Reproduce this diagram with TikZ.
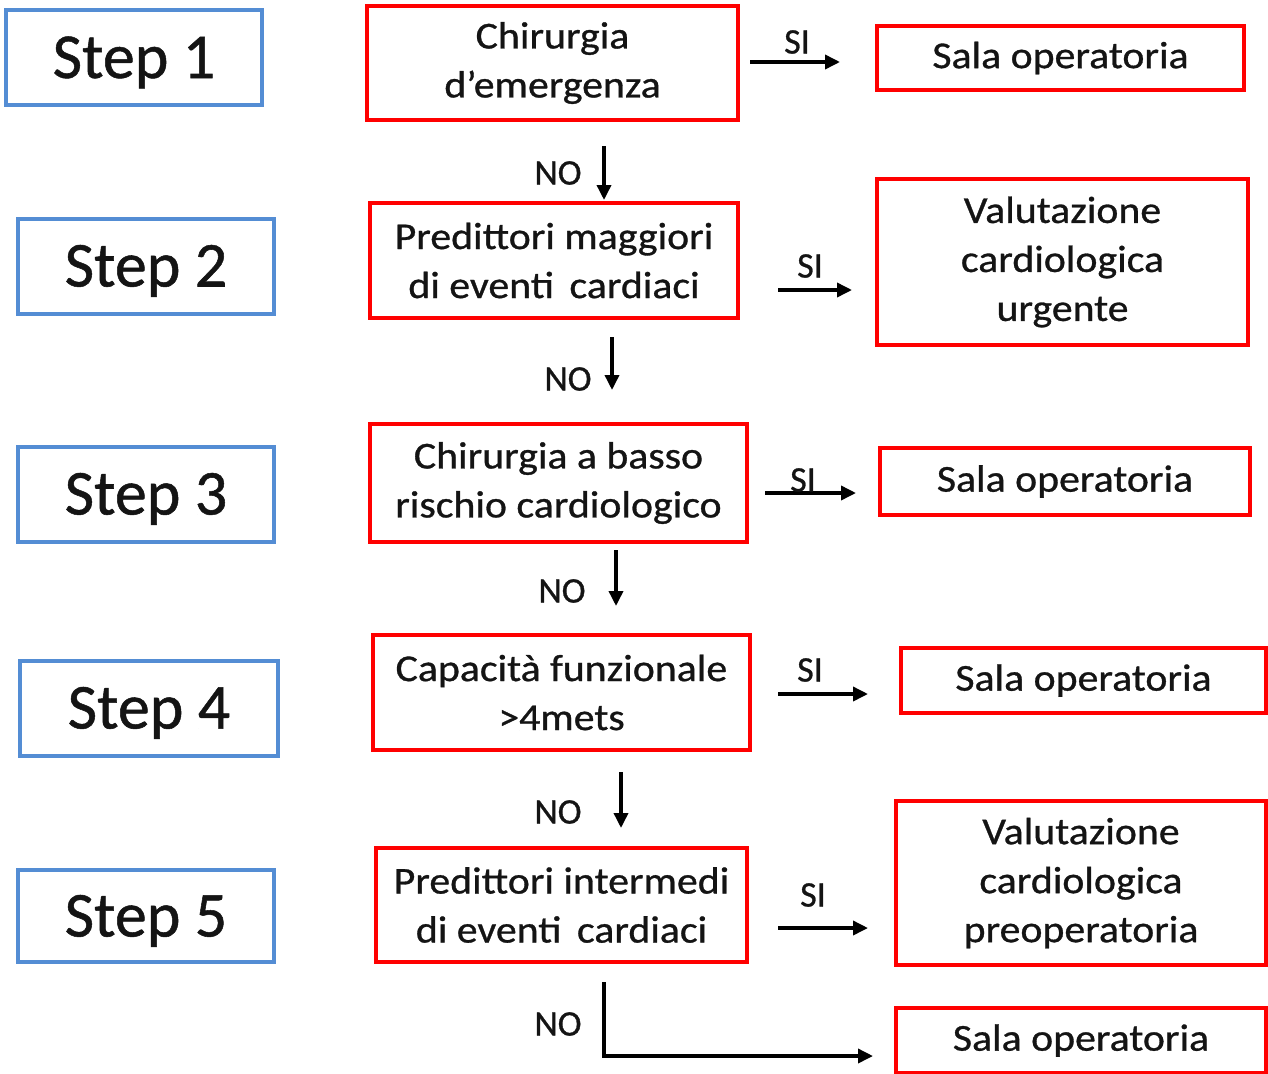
\documentclass[tikz,border=0pt]{standalone}
\usepackage{fontspec}
\setmainfont{Carlito}[FakeBold=0.8]
\newfontfamily\boxfont{Carlito}[FakeStretch=1.1,FakeBold=0.8]
\usetikzlibrary{arrows.meta}
\definecolor{stepblue}{RGB}{84,141,212}
\definecolor{boxred}{RGB}{255,0,0}
\definecolor{txt}{RGB}{20,20,20}
\tikzset{
  stepbox/.style={draw=stepblue, line width=4pt, minimum width=256pt, minimum height=95pt,
    inner sep=0pt, outer sep=0pt, text=txt, text height=41pt, text depth=-6pt,
    font=\fontsize{64}{70}\selectfont},
  redbox/.style={draw=boxred, line width=4pt, inner sep=0pt, outer sep=0pt, align=center,
    text=txt, font=\boxfont\fontsize{38}{49}\selectfont},
  lbl/.style={text=txt, inner sep=0pt, font=\fontsize{36}{40}\selectfont},
  arr/.style={line width=3.5pt, -{Triangle[length=15pt,width=14pt]}}
}
\begin{document}
\begin{tikzpicture}[x=1pt,y=-1pt]
\useasboundingbox (0,0) rectangle (1268,1073);
% step boxes
\node[stepbox] (s1) at (134,57.5) {Step 1};
\node[stepbox] (s2) at (146,266) {Step 2};
\node[stepbox] (s3) at (146,494) {Step 3};
\node[stepbox, minimum width=258pt] (s4) at (149,708) {Step 4};
\node[stepbox, minimum height=92pt] (s5) at (146,916) {Step 5};
% middle column
\node[redbox, minimum width=371pt, minimum height=114pt] (c1) at (552.5,63) {Chirurgia\\d’emergenza};
\node[redbox, minimum width=368pt, minimum height=115pt] (c2) at (554,260.5) {Predittori maggiori\\di eventi\hspace{6pt} cardiaci};
\node[redbox, minimum width=377pt, minimum height=118pt] (c3) at (558.5,483) {Chirurgia a basso\\rischio cardiologico};
\node[redbox, minimum width=377pt, minimum height=115pt] (c4) at (561.5,692.5) {Capacità funzionale\\>4mets};
\node[redbox, minimum width=371pt, minimum height=114pt] (c5) at (561.5,905) {Predittori intermedi\\di eventi\hspace{6pt} cardiaci};
% right column
\node[redbox, minimum width=367pt, minimum height=64pt] (r1) at (1060.5,58) {Sala operatoria};
\node[redbox, minimum width=371pt, minimum height=166pt] (r2) at (1062.5,262) {Valutazione\\cardiologica\\urgente};
\node[redbox, minimum width=370pt, minimum height=67pt] (r3) at (1065,481.5) {Sala operatoria};
\node[redbox, minimum width=365pt, minimum height=65pt] (r4) at (1083.5,680.5) {Sala operatoria};
\node[redbox, minimum width=370pt, minimum height=164pt] (r5) at (1081,883) {Valutazione\\cardiologica\\preoperatoria};
\node[redbox, minimum width=370pt, minimum height=65pt] (r6) at (1081,1040.5) {Sala operatoria};
% SI arrows
\draw[arr] (c1.east) ++(12,-1) -- ++(90,0);
\draw[arr] (c2.east) ++(40,29.5) -- ++(74,0);
\draw[arr] (c3.east) ++(18,10) -- ++(91,0);
\draw[arr] (c4.east) ++(28,1.5) -- ++(90,0);
\draw[arr] (c5.east) ++(31,23) -- ++(90,0);
\node[lbl] (si1) at (797,42) {SI};
\node[lbl] (si2) at (810,266) {SI};
\node[lbl] (si3) at (803,480) {SI};
\node[lbl] (si4) at (810,670) {SI};
\node[lbl] (si5) at (813,895) {SI};
% NO arrows
\draw[arr] (c1.south) ++(51.5,26) -- ++(0,54);
\draw[arr] (c2.south) ++(58,19) -- ++(0,53);
\draw[arr] (c3.south) ++(57.5,8) -- ++(0,56);
\draw[arr] (c4.south) ++(59.5,22) -- ++(0,56);
\draw[arr] (c5.south) ++(42.5,20) -- ++(0,74) -- ++(269,0);
\node[lbl] (no1) at (558,173) {NO};
\node[lbl] (no2) at (568,379) {NO};
\node[lbl] (no3) at (562,591) {NO};
\node[lbl] (no4) at (558,812) {NO};
\node[lbl] (no5) at (558,1024) {NO};
\end{tikzpicture}
\end{document}
